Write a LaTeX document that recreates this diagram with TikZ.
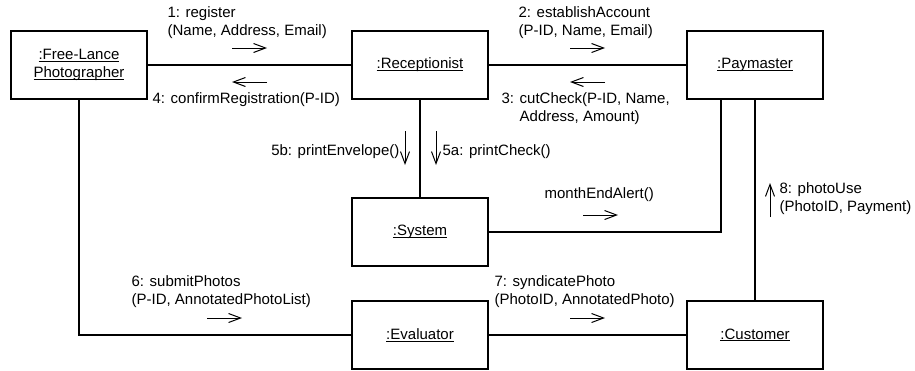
\documentclass[tikz,border=0pt]{standalone}
\usepackage{fontspec}
\setmainfont{Liberation Sans}
\usetikzlibrary{arrows.meta}
\newcommand{\objname}[1]{\setbox0\hbox{#1}\rlap{\rule[-2pt]{\wd0}{0.9pt}}\box0}

\begin{document}
\begin{tikzpicture}[x=1pt,y=-1pt,line width=1.2pt]
\tikzstyle{every node}+=[inner sep=0pt,font=\fontsize{15}{18}\selectfont]
\tikzstyle{obj}=[draw,minimum width=136pt,minimum height=68pt,align=center]
\tikzstyle{msg}=[line width=1pt,-{Straight Barb[length=12pt,width=9pt,line width=1pt]}]
\tikzstyle{lbl}=[anchor=west,align=left]
\useasboundingbox (0,0) rectangle (915,370);
\node [obj] (photographer) at (79,65) {\objname{:Free-Lance}\\\objname{Photographer}};
\node [obj] (receptionist) at (420,65) {\objname{:Receptionist}};
\node [obj] (paymaster) at (755,65) {\objname{:Paymaster}};
\node [obj] (system) at (420,232) {\objname{:System}};
\node [obj] (evaluator) at (420,335) {\objname{:Evaluator}};
\node [obj] (customer) at (755,335) {\objname{:Customer}};
\draw (photographer) -- (receptionist);
\draw (receptionist) -- (paymaster);
\draw (receptionist) -- (system);
\draw (photographer.south) |- (evaluator.west);
\draw (evaluator) -- (customer);
\draw ([xshift=-34pt]paymaster.south) |- (system.east);
\draw (paymaster) -- (customer);
\draw [msg] (232,48) -- (267,48);
\draw [msg] (267,82) -- (232,82);
\draw [msg] (570,48) -- (605,48);
\draw [msg] (605,82) -- (570,82);
\draw [msg] (405,131) -- (405,165);
\draw [msg] (436,131) -- (436,165);
\draw [msg] (583,215) -- (618,215);
\draw [msg] (770,217) -- (770,183);
\draw [msg] (207,318) -- (242,318);
\draw [msg] (570,318) -- (605,318);
\node [lbl] (register) at (167,23) {1: register\\(Name, Address, Email)};
\node [lbl] (confirm) at (152,100) {4: confirmRegistration(P-ID)};
\node [lbl] (establish) at (518,23) {2: establishAccount\\(P-ID, Name, Email)};
\node [lbl] (cutcheck) at (501,109) {3: cutCheck(P-ID, Name,\\\hphantom{3: }Address, Amount)};
\node [anchor=east] (envelope) at (400,152) {5b: printEnvelope()};
\node [lbl] (check) at (442,152) {5a: printCheck()};
\node [lbl] (alert) at (544,195) {monthEndAlert()};
\node [lbl] (photouse) at (779,199) {8: photoUse\\(PhotoID, Payment)};
\node [lbl] (submit) at (131,292) {6: submitPhotos\\(P-ID, AnnotatedPhotoList)};
\node [lbl] (syndicate) at (494,292) {7: syndicatePhoto\\(PhotoID, AnnotatedPhoto)};
\end{tikzpicture}
\end{document}
